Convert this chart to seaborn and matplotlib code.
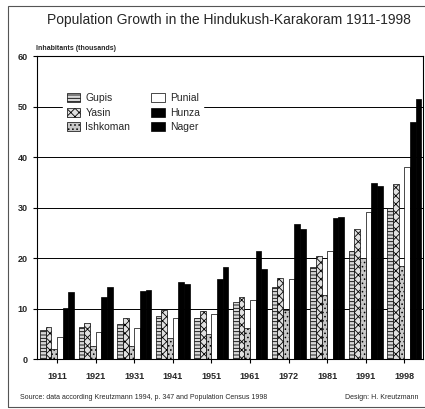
import numpy as np
import pandas as pd
import matplotlib
matplotlib.use("Agg")
import matplotlib.pyplot as plt
import seaborn as sns
from matplotlib.patches import Rectangle

# -----------------------------
# data (thousands of inhabitants)
# -----------------------------
years = ["1911", "1921", "1931", "1941", "1951", "1961", "1972", "1981", "1991", "1998"]
gupis = [5.7, 6.3, 6.9, 8.5, 8.1, 11.3, 14.3, 18.3, 21.4, 30.0]
yasin = [6.4, 7.1, 8.1, 9.7, 9.5, 12.2, 16.1, 20.5, 25.7, 34.7]
ishkoman = [2.0, 2.6, 2.6, 4.1, 4.9, 6.2, 9.7, 12.6, 20.1, 18.4]
punial = [4.4, 5.4, 6.1, 8.1, 8.9, 11.7, 15.8, 21.5, 29.2, 38.1]
hunza = [10.2, 12.2, 13.5, 15.3, 15.8, 21.4, 26.7, 28.0, 34.8, 47.0]
nager = [13.3, 14.2, 13.6, 14.9, 18.3, 17.8, 25.7, 28.2, 34.3, 51.5]

regions = ["Gupis", "Yasin", "Ishkoman", "Punial", "Hunza", "Nager"]
series = [gupis, yasin, ishkoman, punial, hunza, nager]

df = pd.DataFrame({
    "year": np.tile(years, len(regions)),
    "region": np.repeat(regions, len(years)),
    "pop": np.concatenate(series),
})

sns.set_style("white")
plt.rcParams["font.family"] = ["Liberation Sans", "DejaVu Sans"]
plt.rcParams["hatch.linewidth"] = 0.6

fig = plt.figure(figsize=(4.25, 4.09), dpi=100)
ax = fig.add_axes([0.087, 0.122, 0.908, 0.741])

sns.barplot(data=df, x="year", y="pop", hue="region", hue_order=regions,
            order=years, width=0.88, legend=False, ax=ax, saturation=1)

# bar styles (grey-scale print)
faces = ["#d8d8d8", "#e0e0e0", "#c8c8c8", "white", "black", "black"]
hatches = ["-----", "xxxx", "....", None, None, None]
for cont, fc, h in zip(ax.containers, faces, hatches):
    for bar in cont:
        bar.set_facecolor(fc)
        bar.set_edgecolor("black")
        bar.set_linewidth(0.5)
        if h:
            bar.set_hatch(h)

ax.set_ylim(0, 60)
ax.set_xlim(-0.52, 9.48)
ax.set_yticks(range(0, 61, 10))
ax.set_xlabel("")
ax.set_ylabel("")
for v in range(10, 60, 10):
    ax.axhline(v, color="black", lw=0.7, zorder=0)

ax.tick_params(axis="both", direction="out", length=3, width=0.8,
               labelsize=6.5, bottom=True, left=True, color="black")
for lab in ax.get_xticklabels() + ax.get_yticklabels():
    lab.set_fontweight("bold")
ax.tick_params(axis="x", pad=6)
for s in ax.spines.values():
    s.set_color("black")
    s.set_linewidth(0.8)

leg = ax.legend(ax.containers, regions, ncol=2, loc="upper left",
                bbox_to_anchor=(0.055, 0.905), frameon=True, fontsize=7.5,
                handlelength=1.3, handleheight=1.0, columnspacing=2.0,
                labelspacing=0.4, borderpad=0.3, handletextpad=0.5)
leg.get_frame().set_edgecolor("white")
leg.get_frame().set_facecolor("white")
leg.get_frame().set_alpha(1)

fig.text(0.538, 0.952, "Population Growth in the Hindukush-Karakoram 1911-1998",
         ha="center", va="center", fontsize=10)
fig.text(0.085, 0.882, "Inhabitants (thousands)", ha="left", va="center",
         fontsize=5, fontweight="bold")
fig.text(0.047, 0.029, "Source: data according Kreutzmann 1994, p. 347 and Population Census 1998",
         ha="left", va="center", fontsize=5)
fig.text(0.985, 0.029, "Design: H. Kreutzmann", ha="right", va="center", fontsize=5)

# scanned frame around the figure
fig.patches.append(Rectangle((0.019, 0.005), 0.985, 0.98, transform=fig.transFigure,
                             fill=False, edgecolor="#555555", lw=0.8))

fig.savefig("out.png", dpi=100)
